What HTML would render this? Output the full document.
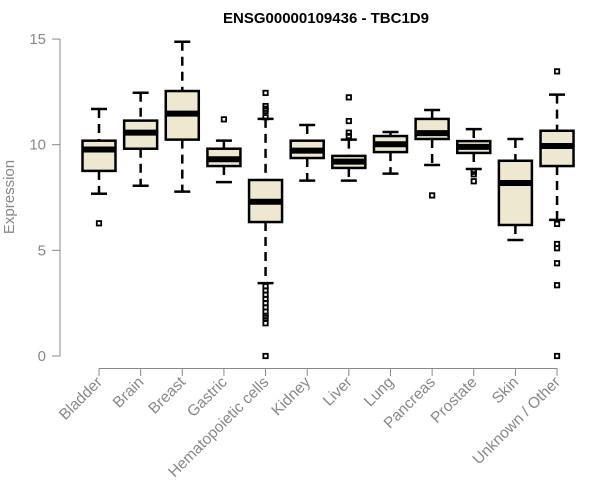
<!DOCTYPE html>
<html><head><meta charset="utf-8"><style>
body{margin:0;background:#fff}
svg{display:block;font-family:"Liberation Sans",Arial,sans-serif}
</style></head><body>
<svg id="chart" width="600" height="500">
<text x="326" y="23" text-anchor="middle" font-weight="bold" font-size="15" fill="#000">ENSG00000109436 - TBC1D9</text>
<text transform="translate(14,197) rotate(-90)" text-anchor="middle" font-size="15" fill="#888">Expression</text>
<g id="axes"></g><g id="boxes"></g>
</svg>
<script>
const categories=["Bladder","Brain","Breast","Gastric","Hematopoietic cells","Kidney","Liver","Lung","Pancreas","Prostate","Skin","Unknown / Other"];
const whiskLow=[7.68,8.06,7.78,8.23,3.45,8.30,8.30,8.63,9.04,8.85,5.49,6.44];
const q1=[8.76,9.81,10.24,8.99,6.34,9.37,8.90,9.65,10.27,9.61,6.20,8.99];
const medians=[9.77,10.57,11.47,9.31,7.30,9.72,9.20,10.02,10.55,9.90,8.19,9.94];
const q3=[10.19,11.14,12.54,9.81,8.33,10.19,9.47,10.41,11.22,10.17,9.24,10.66];
const whiskHigh=[11.69,12.46,14.87,10.19,11.22,10.93,10.24,10.60,11.64,10.74,10.27,12.37];
const outliers=[[6.28],[],[],[11.2],[12.45,11.83,11.7,11.6,11.3,3.3,3.1,2.9,2.7,2.5,2.3,2.1,1.9,1.8,1.55,0],[],[12.24,11.12,10.57,10.41],[],[7.6],[8.72,8.6,8.27],[],[13.47,6.25,5.3,5.1,4.39,3.35,0]];
const yTicks=[0,5,10,15];
const NS="http://www.w3.org/2000/svg";
const y=v=>356-v*21.13;
const x=i=>99+i*41.64;
function mk(t,a,p){const e=document.createElementNS(NS,t);for(const k in a)e.setAttribute(k,a[k]);p.appendChild(e);return e;}
const ax=document.getElementById('axes'),bx=document.getElementById('boxes');
const ya=mk('line',{x1:60,x2:60,y1:y(15),y2:y(0),stroke:'#888'},ax);


yTicks.forEach(t=>{
 const l=mk('line',{x1:52,x2:60,y1:y(t),y2:y(t),stroke:'#888'},ax);
 
 
 const tx=mk('text',{x:46,y:y(t)+5,'text-anchor':'end','font-size':15,fill:'#888'},ax);tx.textContent=t;
 
 
});
const xa=mk('line',{x1:x(0),x2:x(categories.length-1),y1:368.5,y2:368.5,stroke:'#888'},ax);


categories.forEach((c,i)=>{
 const l=mk('line',{x1:x(i),x2:x(i),y1:368.5,y2:376,stroke:'#888'},ax);
 
 
 const t=mk('text',{transform:`translate(${x(i)+4},${383}) rotate(-45)`,'text-anchor':'end','font-size':15.5,fill:'#888'},ax);t.textContent=c;
 
 
 const g=mk('g',{},bx);
 
 
 const cx=x(i),hw=16.5;
 mk('line',{x1:cx,x2:cx,y1:y(whiskHigh[i]),y2:y(q3[i]),stroke:'#000','stroke-width':2.5,'stroke-dasharray':'9,6'},g);
 mk('line',{x1:cx,x2:cx,y1:y(q1[i]),y2:y(whiskLow[i]),stroke:'#000','stroke-width':2.5,'stroke-dasharray':'9,6'},g);
 mk('line',{x1:cx-8,x2:cx+8,y1:y(whiskHigh[i]),y2:y(whiskHigh[i]),stroke:'#000','stroke-width':2.5},g);
 mk('line',{x1:cx-8,x2:cx+8,y1:y(whiskLow[i]),y2:y(whiskLow[i]),stroke:'#000','stroke-width':2.5},g);
 mk('rect',{x:cx-hw,y:y(q3[i]),width:hw*2,height:y(q1[i])-y(q3[i]),fill:'#ede8cf',stroke:'#000','stroke-width':2.5},g);
 mk('line',{x1:cx-hw,x2:cx+hw,y1:y(medians[i]),y2:y(medians[i]),stroke:'#000','stroke-width':6},g);
 outliers[i].forEach(v=>{
  const r=mk('rect',{x:cx-2.2,y:y(v)-2.2,width:4.4,height:4.4,fill:'none',stroke:'#000','stroke-width':1.8},g);
  
  
 });
});
</script>
</body></html>
